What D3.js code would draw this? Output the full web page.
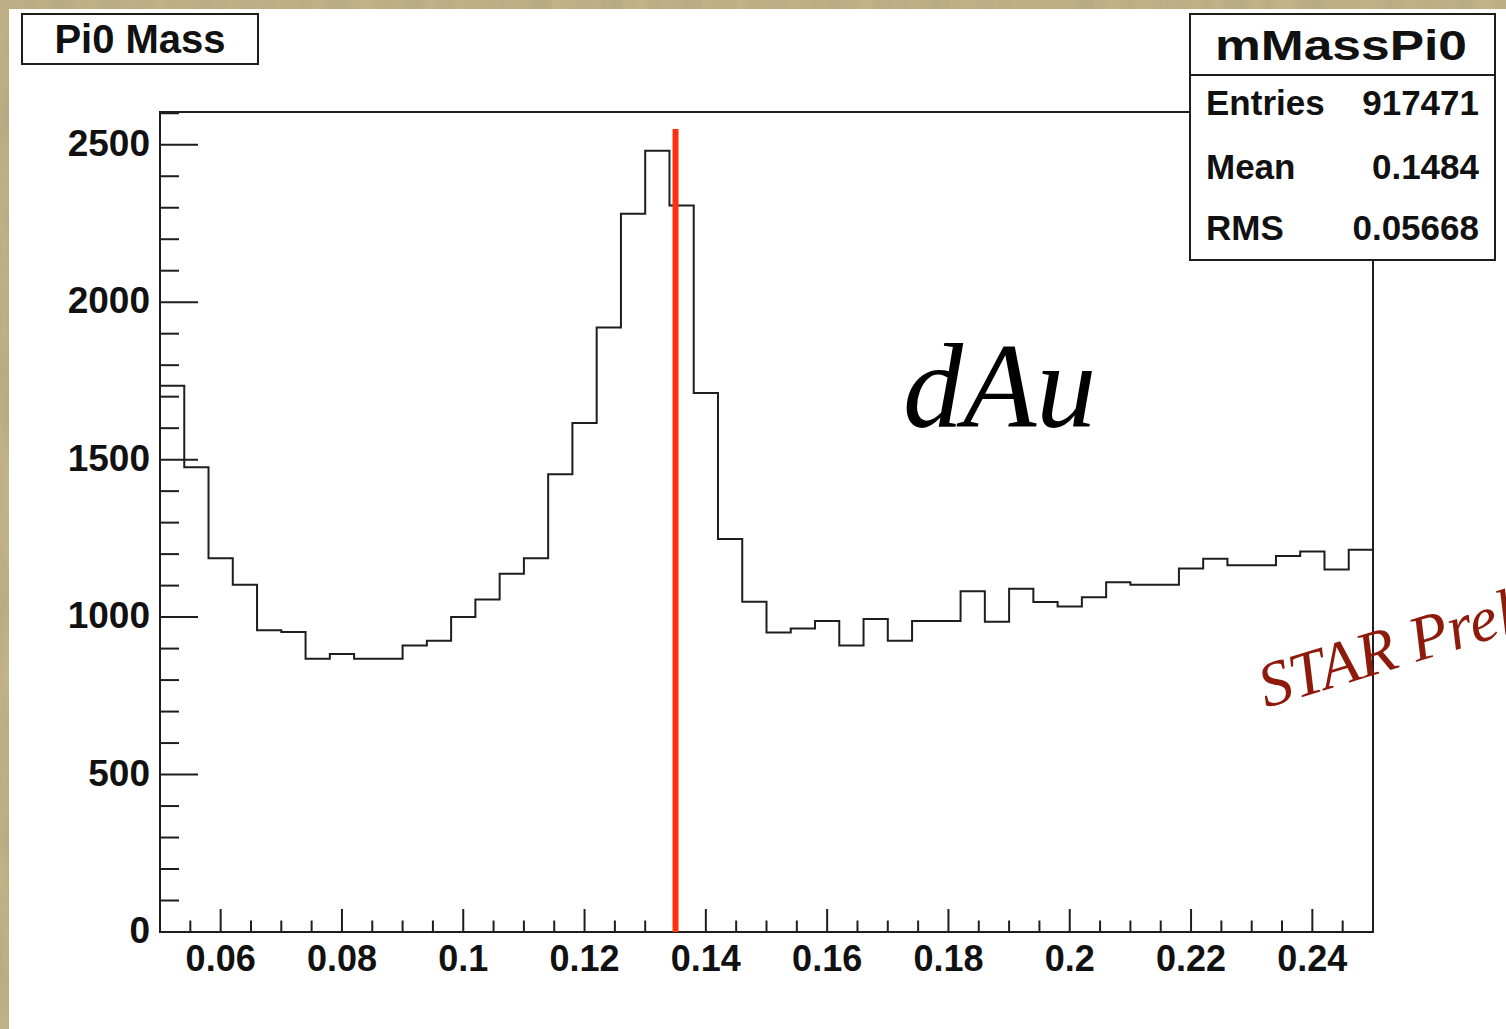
<!DOCTYPE html>
<html>
<head>
<meta charset="utf-8">
<script src="https://cdn.jsdelivr.net/npm/d3@7"></script>
<style>
  html, body { margin: 0; padding: 0; overflow: hidden; background: #c6b78d; }
  text { font-family: "Liberation Sans", Arial, Helvetica, sans-serif; }
</style>
</head>
<body>
<div id="chart"></div>
<script>
// histogram mMassPi0, 50 bins between 0.05 and 0.25
var binLow = 0.05;
var binHigh = 0.25;
var counts = [1735, 1476, 1187, 1103, 958, 953, 868, 883, 868, 868,
              910, 925, 1000, 1056, 1138, 1187, 1454, 1616, 1920, 2281,
              2481, 2307, 1712, 1248, 1049, 951, 964, 988, 910, 994,
              925, 988, 988, 1082, 985, 1090, 1048, 1034, 1063, 1111,
              1103, 1103, 1154, 1185, 1165, 1165, 1194, 1208, 1151, 1214];
var xTicks = [0.06, 0.08, 0.1, 0.12, 0.14, 0.16, 0.18, 0.2, 0.22, 0.24];
var yTicks = [0, 500, 1000, 1500, 2000, 2500];
var pi0Mass = 0.135;      // red marker line
var markerTop = 2550;
var statNames = ["Entries", "Mean", "RMS"];
var statValues = ["917471", "0.1484", "0.05668"];

var W = 1506, H = 1029;

var svg = d3.select("#chart").append("svg")
    .attr("width", W)
    .attr("height", H);

// parchment like background of the slide
var defs = svg.append("defs");
var f = defs.append("filter").attr("id", "paper")
    .attr("x", 0).attr("y", 0).attr("width", "100%").attr("height", "100%");
f.append("feTurbulence").attr("type", "fractalNoise")
    .attr("baseFrequency", "0.04 0.012").attr("numOctaves", 4).attr("seed", 3);
f.append("feColorMatrix").attr("type", "matrix")
    .attr("values", "0 0 0 0 0.42  0 0 0 0 0.37  0 0 0 0 0.22  0 0 0 1.1 -0.3");
f.append("feComposite").attr("in2", "SourceGraphic").attr("operator", "in");

svg.append("rect").attr("width", W).attr("height", H).attr("fill", "#c3b386");
svg.append("rect").attr("width", W).attr("height", H).attr("fill", "#c3b386")
    .attr("filter", "url(#paper)");

// white ROOT canvas
svg.append("rect")
    .attr("x", 9).attr("y", 9)
    .attr("width", W - 9).attr("height", H - 9)
    .attr("fill", "#ffffff");

// frame edges (careful: "top" is taken by window.top)
var fL = 160, fR = 1373, fT = 112, fB = 932;

var x = d3.scaleLinear().domain([binLow, binHigh]).range([fL, fR]);
var y = d3.scaleLinear().domain([0, 2604]).range([fB, fT]);

var binW = (binHigh - binLow) / counts.length;

// step outline, ROOT style (no drop to zero at the ends)
var p = d3.path();
counts.forEach(function(c, i) {
  var x0 = x(binLow + i * binW), x1 = x(binLow + (i + 1) * binW);
  if (i === 0) p.moveTo(x0, y(c)); else p.lineTo(x0, y(c));
  p.lineTo(x1, y(c));
});

var ink = "#1e1e1e";

// axis ticks (drawn inside the frame)
var yMinor = d3.range(0, 2601, 100);
svg.append("g").selectAll("line").data(yMinor).enter().append("line")
    .attr("x1", fL)
    .attr("x2", function(d) { return fL + (d % 500 === 0 ? 38 : 19); })
    .attr("y1", function(d) { return y(d); })
    .attr("y2", function(d) { return y(d); })
    .attr("stroke", ink).attr("stroke-width", 2);

var xMinor = d3.range(0.055, 0.2451, 0.005);
svg.append("g").selectAll("line").data(xMinor).enter().append("line")
    .attr("x1", function(d) { return x(d); })
    .attr("x2", function(d) { return x(d); })
    .attr("y1", fB)
    .attr("y2", function(d) {
      var major = xTicks.some(function(t) { return Math.abs(t - d) < 1e-6; });
      return fB - (major ? 23 : 11.5);
    })
    .attr("stroke", ink).attr("stroke-width", 2);

// tick labels
svg.append("g").selectAll("text").data(yTicks).enter().append("text")
    .attr("x", 150)
    .attr("y", function(d) { return y(d) + 11; })
    .attr("text-anchor", "end")
    .attr("font-size", 37).attr("font-weight", "bold").attr("fill", "#111")
    .text(function(d) { return d; });

svg.append("g").selectAll("text").data(xTicks).enter().append("text")
    .attr("x", function(d) { return x(d); })
    .attr("y", 971)
    .attr("text-anchor", "middle")
    .attr("font-size", 36).attr("font-weight", "bold").attr("fill", "#111")
    .text(function(d) { return d3.format("~g")(d); });

// histogram
svg.append("path")
    .attr("d", p.toString())
    .attr("fill", "none")
    .attr("stroke", ink)
    .attr("stroke-width", 2);

// frame
svg.append("rect")
    .attr("x", fL).attr("y", fT)
    .attr("width", fR - fL).attr("height", fB - fT)
    .attr("fill", "none").attr("stroke", ink).attr("stroke-width", 2);

// pi0 mass marker
svg.append("line")
    .attr("x1", x(pi0Mass)).attr("x2", x(pi0Mass))
    .attr("y1", y(0)).attr("y2", y(markerTop))
    .attr("stroke", "#ff3010").attr("stroke-width", 6);

// dAu label
svg.append("text")
    .attr("x", 903).attr("y", 427)
    .style("font-family", "'Liberation Serif', 'Times New Roman', serif")
    .attr("font-style", "italic")
    .attr("font-size", 120)
    .attr("fill", "#000")
    .text("dAu");

// STAR Preliminary stamp, runs off the page
svg.append("text")
    .attr("transform", "translate(1266,708) rotate(-17)")
    .style("font-family", "'Liberation Serif', 'Times New Roman', serif")
    .attr("font-style", "italic")
    .attr("font-size", 64)
    .attr("fill", "#8e1a0c")
    .text("STAR Preliminary");

// title box
svg.append("rect")
    .attr("x", 22).attr("y", 14).attr("width", 236).attr("height", 50)
    .attr("fill", "#fff").attr("stroke", ink).attr("stroke-width", 2);
svg.append("text")
    .attr("x", 140).attr("y", 53)
    .attr("text-anchor", "middle")
    .attr("font-size", 40).attr("font-weight", "bold").attr("fill", "#111")
    .text("Pi0 Mass");

// stats box
var sb = {x: 1190, y: 14, w: 305, h: 246, div: 75};
svg.append("rect")
    .attr("x", sb.x).attr("y", sb.y).attr("width", sb.w).attr("height", sb.h)
    .attr("fill", "#fff").attr("stroke", ink).attr("stroke-width", 2);
svg.append("line")
    .attr("x1", sb.x).attr("x2", sb.x + sb.w)
    .attr("y1", sb.div).attr("y2", sb.div)
    .attr("stroke", ink).attr("stroke-width", 2);
svg.append("text")
    .attr("x", 1215).attr("y", 60)
    .attr("font-size", 42).attr("font-weight", "bold").attr("fill", "#111")
    .attr("textLength", 252).attr("lengthAdjust", "spacingAndGlyphs")
    .text("mMassPi0");

var rowY = [115, 179, 240];
statNames.forEach(function(n, i) {
  svg.append("text")
      .attr("x", 1206).attr("y", rowY[i])
      .attr("font-size", 35).attr("font-weight", "bold").attr("fill", "#111")
      .text(n);
  svg.append("text")
      .attr("x", 1479).attr("y", rowY[i])
      .attr("text-anchor", "end")
      .attr("font-size", 35).attr("font-weight", "bold").attr("fill", "#111")
      .text(statValues[i]);
});
</script>
</body>
</html>
